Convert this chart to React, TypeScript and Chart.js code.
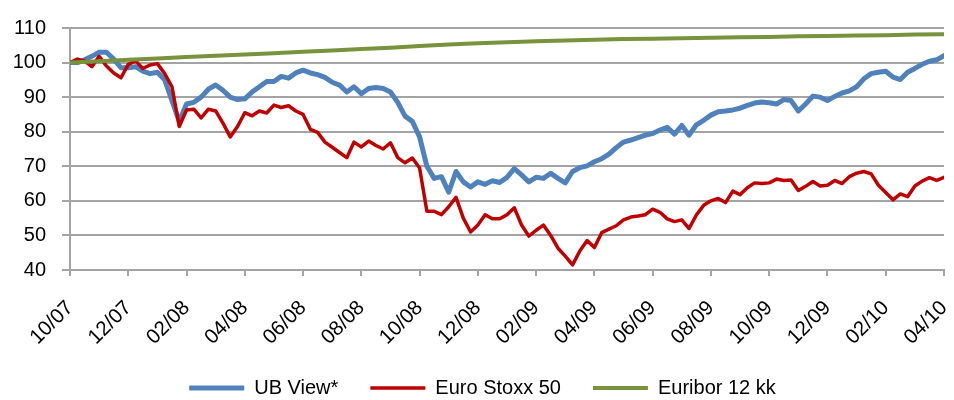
import { useEffect, useRef } from "react";
import { Chart, registerables } from "chart.js";

Chart.register(...registerables);

// Tick labels of the time axis (one every two months, Oct 2007 – Apr 2010)
const xTickLabels = [
  "10/07", "12/07", "02/08", "04/08", "06/08", "08/08", "10/08", "12/08",
  "02/09", "04/09", "06/09", "08/09", "10/09", "12/09", "02/10", "04/10",
];

// Weekly readings (one value every quarter month)
const ubView = [
  100, 100, 100.8, 101.8, 103, 103, 101, 98.5, 98.5, 98.8,
  97.5, 96.8, 97.2, 95, 89, 83, 88, 88.5, 90, 92.3,
  93.5, 92, 90, 89.3, 89.5, 91.5, 93, 94.5, 94.5, 96,
  95.5, 97, 97.8, 97, 96.5, 95.7, 94.3, 93.5, 91.5, 93,
  91, 92.5, 92.8, 92.5, 91.5, 88.5, 84.5, 83, 78.5, 70,
  66.5, 67, 62.5, 68.5, 65.5, 64, 65.5, 64.8, 65.8, 65.3,
  66.8, 69.3, 67.5, 65.5, 66.8, 66.5, 68, 66.5, 65.2, 68.5,
  69.6, 70.1, 71.3, 72.2, 73.5, 75.4, 77, 77.6, 78.3, 79,
  79.5, 80.5, 81.3, 79.3, 81.8, 79, 82, 83.3, 84.8, 85.8,
  86, 86.3, 86.8, 87.6, 88.3, 88.6, 88.4, 88, 89.3, 89,
  86, 88, 90.3, 90, 89, 90.2, 91.2, 91.8, 93, 95.3,
  96.8, 97.2, 97.5, 95.8, 95.1, 97.2, 98.3, 99.5, 100.4, 100.8, 102,
];

const euroStoxx = [
  100, 101, 100.5, 98.8, 101.8, 99, 97, 95.6, 99.5, 100.5,
  98.3, 99.3, 99.7, 96.8, 93, 81.5, 86.3, 86.5, 84, 86.5,
  86, 82.5, 78.5, 81.5, 85.5, 84.6, 86, 85.4, 87.7, 87,
  87.5, 86, 85, 80.7, 79.8, 77, 75.5, 74, 72.5, 77,
  75.6, 77.3, 76, 75, 76.8, 72.5, 71, 72.4, 69.5, 57,
  57, 56, 58.3, 61, 55, 51, 53, 56, 54.8, 54.8,
  56, 58, 53, 49.8, 51.5, 53, 50, 46.3, 44, 41.5,
  45.5, 48.5, 46.5, 50.8, 51.8, 52.8, 54.5, 55.3, 55.6, 56,
  57.6, 56.7, 54.8, 54, 54.5, 52, 55.9, 58.7, 60, 60.7,
  59.5, 62.8, 61.8, 63.8, 65.2, 65, 65.2, 66.3, 65.9, 66,
  63, 64.2, 65.6, 64.3, 64.5, 65.9, 65, 67, 68, 68.5,
  67.8, 64.5, 62.4, 60.3, 62, 61.2, 64.3, 65.7, 66.7, 65.9, 66.8,
];

// Monthly readings
const euribor = [
  100, 100.4, 100.8, 101.2, 101.6, 102, 102.3, 102.7, 103.1, 103.5,
  103.9, 104.3, 104.8, 105.2, 105.6, 105.9, 106.2, 106.4, 106.6, 106.8,
  106.9, 107, 107.2, 107.3, 107.4, 107.6, 107.7, 107.8, 107.9, 108.1, 108.2,
];

const weeklyStep = 0.25; // months between weekly samples
const monthlyStep = 1;
const tickStep = 2; // months between axis labels

const legendShift = {
  id: "legendShift",
  afterLayout(chart: any) {
    if (chart.legend) chart.legend.left += 11;
  },
};

export default function App() {
  const ref = useRef<HTMLCanvasElement>(null);

  useEffect(() => {
    document.body.style.margin = "0";
    const canvas = ref.current;
    if (!canvas) return;
    const font = { family: "'Liberation Sans', Arial, sans-serif", size: 20 };
    const gridColor = "#a3a3a3";

    const chart = new Chart(canvas, {
      type: "line",
      data: {
        datasets: [
          {
            label: "UB View*",
            data: ubView.map((y, i) => ({ x: i * weeklyStep, y })),
            borderColor: "#4F81BD",
            backgroundColor: "#4F81BD",
            borderWidth: 5,
            order: 3,
          },
          {
            label: "Euro Stoxx 50",
            data: euroStoxx.map((y, i) => ({ x: i * weeklyStep, y })),
            borderColor: "#C00000",
            backgroundColor: "#C00000",
            borderWidth: 3.5,
            order: 2,
          },
          {
            label: "Euribor 12 kk",
            data: euribor.map((y, i) => ({ x: i * monthlyStep, y })),
            borderColor: "#77933C",
            backgroundColor: "#77933C",
            borderWidth: 4,
            order: 1,
          },
        ],
      },
      options: {
        responsive: false,
        animation: false,
        elements: {
          point: { radius: 0, hoverRadius: 0 },
          line: { tension: 0, borderCapStyle: "round", borderJoinStyle: "round" },
        },
        layout: { padding: { left: 10, right: 10, top: 18, bottom: -8 } },
        scales: {
          x: {
            type: "linear",
            min: 0,
            max: (xTickLabels.length - 1) * tickStep,
            afterBuildTicks: (s: any) => {
              s.ticks = xTickLabels.map((_, i) => ({ value: i * tickStep }));
            },
            afterFit: (s: any) => {
              s.height = 76;
              s.paddingLeft = 0;
              s.paddingRight = 0;
            },
            ticks: {
              callback: (v: any) => xTickLabels[Math.round(Number(v) / tickStep)],
              minRotation: 45,
              maxRotation: 45,
              autoSkip: false,
              padding: 20,
              color: "#000",
              font: { ...font, size: 20.5 },
            },
            grid: {
              drawOnChartArea: false,
              drawTicks: true,
              tickLength: 6,
              color: gridColor,
              lineWidth: 2,
            },
            border: { color: gridColor, width: 2 },
          },
          y: {
            min: 40,
            max: 110,
            afterFit: (s: any) => {
              s.width = 60;
            },
            ticks: { stepSize: 10, padding: 16, color: "#000", font },
            grid: { color: gridColor, lineWidth: 2, tickLength: 8 },
            border: { color: gridColor, width: 2 },
          },
        },
        plugins: {
          legend: {
            position: "bottom",
            labels: {
              usePointStyle: true,
              pointStyle: "line",
              pointStyleWidth: 55,
              padding: 32,
              color: "#000",
              font,
              sort: (a: any, b: any) => a.datasetIndex - b.datasetIndex,
            },
          },
          tooltip: { enabled: false },
        },
      },
      plugins: [legendShift],
    } as any);

    return () => chart.destroy();
  }, []);

  return <canvas ref={ref} width={954} height={400} style={{ display: "block" }} />;
}
